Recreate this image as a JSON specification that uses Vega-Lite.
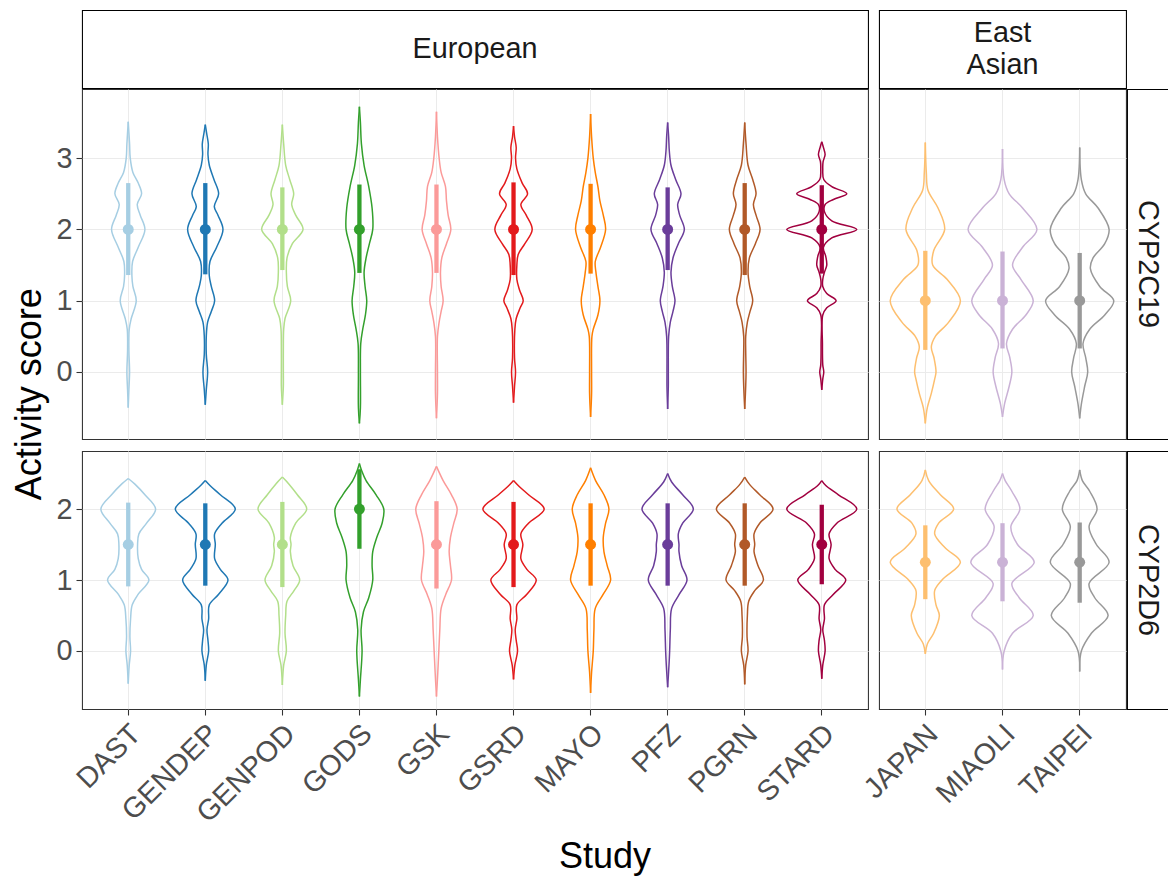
{
"$schema": "https://vega.github.io/schema/vega-lite/v6.json",
"background": "white",
"padding": {"left": 12, "top": 9, "right": 0, "bottom": 0},
"title": {"text": "Activity score", "orient": "left", "anchor": "middle", "fontSize": 36, "fontWeight": "normal", "font": "Liberation Sans", "color": "#000000", "offset": 6, "dx": 48},
"config": {
  "font": "Liberation Sans",
  "axis": {"labelFont": "Liberation Sans", "labelFontSize": 28.8, "labelColor": "#4D4D4D", "tickColor": "#333333", "tickWidth": 1.07, "tickSize": 6, "gridColor": "#EBEBEB", "gridWidth": 1.07, "domain": false, "titleFont": "Liberation Sans", "titleFontSize": 36, "titleFontWeight": "normal", "titleColor": "#000000"}
},
"datasets": {
"vc19eu": [
{"s":"DAST","v":-0.5,"w":0},{"s":"DAST","v":-0.25,"w":2},{"s":"DAST","v":0,"w":4},{"s":"DAST","v":0.3,"w":2},{"s":"DAST","v":0.6,"w":3},{"s":"DAST","v":0.75,"w":9},{"s":"DAST","v":1,"w":24},{"s":"DAST","v":1.2,"w":14},{"s":"DAST","v":1.35,"w":11},{"s":"DAST","v":1.55,"w":13},{"s":"DAST","v":1.75,"w":30},{"s":"DAST","v":2,"w":50},{"s":"DAST","v":2.2,"w":36},{"s":"DAST","v":2.35,"w":27},{"s":"DAST","v":2.5,"w":40},{"s":"DAST","v":2.65,"w":30},{"s":"DAST","v":2.8,"w":14},{"s":"DAST","v":3,"w":6},{"s":"DAST","v":3.2,"w":4},{"s":"DAST","v":3.51,"w":0},
{"s":"GENDEP","v":-0.46,"w":0},{"s":"GENDEP","v":-0.25,"w":3},{"s":"GENDEP","v":0,"w":7},{"s":"GENDEP","v":0.25,"w":3},{"s":"GENDEP","v":0.5,"w":3},{"s":"GENDEP","v":0.7,"w":7},{"s":"GENDEP","v":0.85,"w":18},{"s":"GENDEP","v":1,"w":28},{"s":"GENDEP","v":1.2,"w":18},{"s":"GENDEP","v":1.35,"w":12},{"s":"GENDEP","v":1.55,"w":14},{"s":"GENDEP","v":1.75,"w":34},{"s":"GENDEP","v":2,"w":53},{"s":"GENDEP","v":2.2,"w":38},{"s":"GENDEP","v":2.32,"w":27},{"s":"GENDEP","v":2.5,"w":40},{"s":"GENDEP","v":2.7,"w":26},{"s":"GENDEP","v":2.9,"w":12},{"s":"GENDEP","v":3.05,"w":8},{"s":"GENDEP","v":3.2,"w":9},{"s":"GENDEP","v":3.35,"w":4},{"s":"GENDEP","v":3.47,"w":0},
{"s":"GENPOD","v":-0.46,"w":0},{"s":"GENPOD","v":-0.2,"w":3},{"s":"GENPOD","v":0,"w":3},{"s":"GENPOD","v":0.3,"w":3},{"s":"GENPOD","v":0.6,"w":4},{"s":"GENPOD","v":0.75,"w":8},{"s":"GENPOD","v":1,"w":25},{"s":"GENPOD","v":1.2,"w":15},{"s":"GENPOD","v":1.4,"w":12},{"s":"GENPOD","v":1.6,"w":14},{"s":"GENPOD","v":1.8,"w":30},{"s":"GENPOD","v":2,"w":62},{"s":"GENPOD","v":2.2,"w":40},{"s":"GENPOD","v":2.35,"w":28},{"s":"GENPOD","v":2.5,"w":34},{"s":"GENPOD","v":2.7,"w":22},{"s":"GENPOD","v":2.9,"w":10},{"s":"GENPOD","v":3.2,"w":4},{"s":"GENPOD","v":3.47,"w":0},
{"s":"GODS","v":-0.72,"w":0},{"s":"GODS","v":-0.5,"w":3},{"s":"GODS","v":0,"w":3},{"s":"GODS","v":0.4,"w":4},{"s":"GODS","v":0.6,"w":10},{"s":"GODS","v":0.8,"w":18},{"s":"GODS","v":1,"w":22},{"s":"GODS","v":1.2,"w":17},{"s":"GODS","v":1.4,"w":14},{"s":"GODS","v":1.6,"w":20},{"s":"GODS","v":1.8,"w":30},{"s":"GODS","v":2,"w":40},{"s":"GODS","v":2.3,"w":38},{"s":"GODS","v":2.6,"w":28},{"s":"GODS","v":2.9,"w":14},{"s":"GODS","v":3.2,"w":6},{"s":"GODS","v":3.5,"w":3},{"s":"GODS","v":3.72,"w":0},
{"s":"GSK","v":-0.65,"w":0},{"s":"GSK","v":-0.3,"w":3},{"s":"GSK","v":0,"w":3},{"s":"GSK","v":0.5,"w":3},{"s":"GSK","v":0.7,"w":8},{"s":"GSK","v":0.85,"w":14},{"s":"GSK","v":1,"w":20},{"s":"GSK","v":1.2,"w":14},{"s":"GSK","v":1.4,"w":12},{"s":"GSK","v":1.6,"w":16},{"s":"GSK","v":1.8,"w":30},{"s":"GSK","v":2,"w":43},{"s":"GSK","v":2.2,"w":35},{"s":"GSK","v":2.4,"w":30},{"s":"GSK","v":2.6,"w":27},{"s":"GSK","v":2.8,"w":14},{"s":"GSK","v":3,"w":8},{"s":"GSK","v":3.3,"w":3},{"s":"GSK","v":3.65,"w":0},
{"s":"GSRD","v":-0.43,"w":0},{"s":"GSRD","v":-0.2,"w":3},{"s":"GSRD","v":0,"w":6},{"s":"GSRD","v":0.2,"w":3},{"s":"GSRD","v":0.6,"w":4},{"s":"GSRD","v":0.75,"w":8},{"s":"GSRD","v":0.9,"w":20},{"s":"GSRD","v":1,"w":29},{"s":"GSRD","v":1.15,"w":18},{"s":"GSRD","v":1.3,"w":10},{"s":"GSRD","v":1.5,"w":10},{"s":"GSRD","v":1.65,"w":14},{"s":"GSRD","v":1.8,"w":34},{"s":"GSRD","v":2,"w":56},{"s":"GSRD","v":2.2,"w":38},{"s":"GSRD","v":2.35,"w":22},{"s":"GSRD","v":2.5,"w":42},{"s":"GSRD","v":2.65,"w":26},{"s":"GSRD","v":2.85,"w":10},{"s":"GSRD","v":3,"w":6},{"s":"GSRD","v":3.15,"w":8},{"s":"GSRD","v":3.3,"w":3},{"s":"GSRD","v":3.45,"w":0},
{"s":"MAYO","v":-0.63,"w":0},{"s":"MAYO","v":-0.3,"w":3},{"s":"MAYO","v":0,"w":3},{"s":"MAYO","v":0.5,"w":4},{"s":"MAYO","v":0.6,"w":8},{"s":"MAYO","v":0.8,"w":22},{"s":"MAYO","v":1,"w":28},{"s":"MAYO","v":1.2,"w":22},{"s":"MAYO","v":1.4,"w":16},{"s":"MAYO","v":1.55,"w":14},{"s":"MAYO","v":1.75,"w":30},{"s":"MAYO","v":2,"w":45},{"s":"MAYO","v":2.2,"w":38},{"s":"MAYO","v":2.4,"w":28},{"s":"MAYO","v":2.6,"w":22},{"s":"MAYO","v":2.8,"w":14},{"s":"MAYO","v":3,"w":8},{"s":"MAYO","v":3.3,"w":3},{"s":"MAYO","v":3.62,"w":0},
{"s":"PFZ","v":-0.52,"w":0},{"s":"PFZ","v":-0.2,"w":2},{"s":"PFZ","v":0,"w":2},{"s":"PFZ","v":0.5,"w":3},{"s":"PFZ","v":0.7,"w":8},{"s":"PFZ","v":0.85,"w":16},{"s":"PFZ","v":1,"w":22},{"s":"PFZ","v":1.2,"w":14},{"s":"PFZ","v":1.4,"w":10},{"s":"PFZ","v":1.6,"w":16},{"s":"PFZ","v":1.8,"w":32},{"s":"PFZ","v":2,"w":50},{"s":"PFZ","v":2.2,"w":36},{"s":"PFZ","v":2.35,"w":30},{"s":"PFZ","v":2.5,"w":40},{"s":"PFZ","v":2.7,"w":24},{"s":"PFZ","v":2.9,"w":10},{"s":"PFZ","v":3.1,"w":5},{"s":"PFZ","v":3.3,"w":3},{"s":"PFZ","v":3.5,"w":0},
{"s":"PGRN","v":-0.52,"w":0},{"s":"PGRN","v":-0.2,"w":3},{"s":"PGRN","v":0,"w":4},{"s":"PGRN","v":0.3,"w":3},{"s":"PGRN","v":0.5,"w":3},{"s":"PGRN","v":0.7,"w":8},{"s":"PGRN","v":0.85,"w":16},{"s":"PGRN","v":1,"w":24},{"s":"PGRN","v":1.2,"w":15},{"s":"PGRN","v":1.4,"w":10},{"s":"PGRN","v":1.6,"w":14},{"s":"PGRN","v":1.8,"w":32},{"s":"PGRN","v":2,"w":46},{"s":"PGRN","v":2.2,"w":34},{"s":"PGRN","v":2.35,"w":26},{"s":"PGRN","v":2.5,"w":34},{"s":"PGRN","v":2.7,"w":24},{"s":"PGRN","v":2.9,"w":10},{"s":"PGRN","v":3.2,"w":4},{"s":"PGRN","v":3.5,"w":0},
{"s":"STARD","v":-0.25,"w":0},{"s":"STARD","v":-0.1,"w":3},{"s":"STARD","v":0,"w":6},{"s":"STARD","v":0.1,"w":3},{"s":"STARD","v":0.4,"w":2},{"s":"STARD","v":0.8,"w":3},{"s":"STARD","v":0.9,"w":15},{"s":"STARD","v":1,"w":43},{"s":"STARD","v":1.1,"w":15},{"s":"STARD","v":1.2,"w":3},{"s":"STARD","v":1.3,"w":3},{"s":"STARD","v":1.4,"w":8},{"s":"STARD","v":1.5,"w":15},{"s":"STARD","v":1.62,"w":12},{"s":"STARD","v":1.75,"w":5},{"s":"STARD","v":1.88,"w":30},{"s":"STARD","v":2,"w":105},{"s":"STARD","v":2.12,"w":30},{"s":"STARD","v":2.25,"w":8},{"s":"STARD","v":2.35,"w":10},{"s":"STARD","v":2.42,"w":35},{"s":"STARD","v":2.5,"w":75},{"s":"STARD","v":2.6,"w":30},{"s":"STARD","v":2.7,"w":6},{"s":"STARD","v":2.85,"w":3},{"s":"STARD","v":2.95,"w":4},{"s":"STARD","v":3.05,"w":10},{"s":"STARD","v":3.15,"w":5},{"s":"STARD","v":3.23,"w":0}
],
"vc19ea": [
{"s":"JAPAN","v":-0.72,"w":0},{"s":"JAPAN","v":-0.5,"w":6},{"s":"JAPAN","v":-0.3,"w":18},{"s":"JAPAN","v":-0.1,"w":28},{"s":"JAPAN","v":0,"w":32},{"s":"JAPAN","v":0.2,"w":26},{"s":"JAPAN","v":0.35,"w":18},{"s":"JAPAN","v":0.5,"w":30},{"s":"JAPAN","v":0.7,"w":70},{"s":"JAPAN","v":1,"w":105},{"s":"JAPAN","v":1.3,"w":65},{"s":"JAPAN","v":1.5,"w":22},{"s":"JAPAN","v":1.7,"w":25},{"s":"JAPAN","v":2,"w":58},{"s":"JAPAN","v":2.3,"w":38},{"s":"JAPAN","v":2.55,"w":8},{"s":"JAPAN","v":2.8,"w":3},{"s":"JAPAN","v":3.22,"w":0},
{"s":"MIAOLI","v":-0.63,"w":0},{"s":"MIAOLI","v":-0.45,"w":6},{"s":"MIAOLI","v":-0.2,"w":20},{"s":"MIAOLI","v":0,"w":28},{"s":"MIAOLI","v":0.2,"w":22},{"s":"MIAOLI","v":0.4,"w":12},{"s":"MIAOLI","v":0.6,"w":30},{"s":"MIAOLI","v":0.8,"w":70},{"s":"MIAOLI","v":1,"w":92},{"s":"MIAOLI","v":1.3,"w":55},{"s":"MIAOLI","v":1.5,"w":30},{"s":"MIAOLI","v":1.75,"w":60},{"s":"MIAOLI","v":2,"w":103},{"s":"MIAOLI","v":2.3,"w":60},{"s":"MIAOLI","v":2.5,"w":20},{"s":"MIAOLI","v":2.7,"w":5},{"s":"MIAOLI","v":3.13,"w":0},
{"s":"TAIPEI","v":-0.65,"w":0},{"s":"TAIPEI","v":-0.45,"w":5},{"s":"TAIPEI","v":-0.2,"w":15},{"s":"TAIPEI","v":0,"w":24},{"s":"TAIPEI","v":0.2,"w":18},{"s":"TAIPEI","v":0.4,"w":10},{"s":"TAIPEI","v":0.6,"w":30},{"s":"TAIPEI","v":0.8,"w":75},{"s":"TAIPEI","v":1,"w":102},{"s":"TAIPEI","v":1.2,"w":60},{"s":"TAIPEI","v":1.45,"w":32},{"s":"TAIPEI","v":1.6,"w":40},{"s":"TAIPEI","v":1.8,"w":75},{"s":"TAIPEI","v":2,"w":88},{"s":"TAIPEI","v":2.3,"w":55},{"s":"TAIPEI","v":2.5,"w":18},{"s":"TAIPEI","v":2.7,"w":5},{"s":"TAIPEI","v":3.15,"w":0}
],
"vd6eu": [
{"s":"DAST","v":-0.46,"w":0},{"s":"DAST","v":-0.2,"w":3},{"s":"DAST","v":0,"w":7},{"s":"DAST","v":0.2,"w":5},{"s":"DAST","v":0.45,"w":7},{"s":"DAST","v":0.65,"w":12},{"s":"DAST","v":0.8,"w":30},{"s":"DAST","v":1,"w":62},{"s":"DAST","v":1.15,"w":40},{"s":"DAST","v":1.3,"w":30},{"s":"DAST","v":1.5,"w":28},{"s":"DAST","v":1.65,"w":32},{"s":"DAST","v":1.8,"w":55},{"s":"DAST","v":2,"w":82},{"s":"DAST","v":2.2,"w":50},{"s":"DAST","v":2.35,"w":20},{"s":"DAST","v":2.43,"w":0},
{"s":"GENDEP","v":-0.42,"w":0},{"s":"GENDEP","v":-0.2,"w":3},{"s":"GENDEP","v":0,"w":10},{"s":"GENDEP","v":0.15,"w":8},{"s":"GENDEP","v":0.3,"w":5},{"s":"GENDEP","v":0.45,"w":10},{"s":"GENDEP","v":0.65,"w":12},{"s":"GENDEP","v":0.8,"w":40},{"s":"GENDEP","v":1,"w":68},{"s":"GENDEP","v":1.15,"w":45},{"s":"GENDEP","v":1.3,"w":28},{"s":"GENDEP","v":1.5,"w":30},{"s":"GENDEP","v":1.65,"w":28},{"s":"GENDEP","v":1.8,"w":50},{"s":"GENDEP","v":2,"w":90},{"s":"GENDEP","v":2.2,"w":45},{"s":"GENDEP","v":2.33,"w":14},{"s":"GENDEP","v":2.4,"w":0},
{"s":"GENPOD","v":-0.48,"w":0},{"s":"GENPOD","v":-0.2,"w":4},{"s":"GENPOD","v":0,"w":12},{"s":"GENPOD","v":0.25,"w":8},{"s":"GENPOD","v":0.5,"w":10},{"s":"GENPOD","v":0.7,"w":14},{"s":"GENPOD","v":0.85,"w":35},{"s":"GENPOD","v":1,"w":52},{"s":"GENPOD","v":1.2,"w":32},{"s":"GENPOD","v":1.4,"w":24},{"s":"GENPOD","v":1.5,"w":26},{"s":"GENPOD","v":1.6,"w":24},{"s":"GENPOD","v":1.8,"w":40},{"s":"GENPOD","v":2,"w":73},{"s":"GENPOD","v":2.2,"w":45},{"s":"GENPOD","v":2.35,"w":20},{"s":"GENPOD","v":2.45,"w":0},
{"s":"GODS","v":-0.64,"w":0},{"s":"GODS","v":-0.4,"w":3},{"s":"GODS","v":0,"w":8},{"s":"GODS","v":0.3,"w":5},{"s":"GODS","v":0.55,"w":12},{"s":"GODS","v":0.75,"w":28},{"s":"GODS","v":1,"w":40},{"s":"GODS","v":1.2,"w":38},{"s":"GODS","v":1.4,"w":40},{"s":"GODS","v":1.6,"w":52},{"s":"GODS","v":1.8,"w":68},{"s":"GODS","v":2,"w":73},{"s":"GODS","v":2.2,"w":50},{"s":"GODS","v":2.4,"w":20},{"s":"GODS","v":2.55,"w":6},{"s":"GODS","v":2.64,"w":0},
{"s":"GSK","v":-0.64,"w":0},{"s":"GSK","v":-0.3,"w":4},{"s":"GSK","v":0,"w":7},{"s":"GSK","v":0.3,"w":10},{"s":"GSK","v":0.6,"w":14},{"s":"GSK","v":0.8,"w":28},{"s":"GSK","v":1,"w":45},{"s":"GSK","v":1.2,"w":42},{"s":"GSK","v":1.4,"w":38},{"s":"GSK","v":1.6,"w":42},{"s":"GSK","v":1.8,"w":52},{"s":"GSK","v":2,"w":62},{"s":"GSK","v":2.2,"w":45},{"s":"GSK","v":2.4,"w":20},{"s":"GSK","v":2.6,"w":0},
{"s":"GSRD","v":-0.4,"w":0},{"s":"GSRD","v":-0.2,"w":4},{"s":"GSRD","v":0,"w":12},{"s":"GSRD","v":0.15,"w":8},{"s":"GSRD","v":0.3,"w":5},{"s":"GSRD","v":0.45,"w":10},{"s":"GSRD","v":0.65,"w":10},{"s":"GSRD","v":0.8,"w":40},{"s":"GSRD","v":1,"w":68},{"s":"GSRD","v":1.15,"w":40},{"s":"GSRD","v":1.3,"w":22},{"s":"GSRD","v":1.5,"w":28},{"s":"GSRD","v":1.65,"w":22},{"s":"GSRD","v":1.8,"w":45},{"s":"GSRD","v":2,"w":92},{"s":"GSRD","v":2.2,"w":45},{"s":"GSRD","v":2.33,"w":14},{"s":"GSRD","v":2.4,"w":0},
{"s":"MAYO","v":-0.59,"w":0},{"s":"MAYO","v":-0.3,"w":3},{"s":"MAYO","v":0,"w":8},{"s":"MAYO","v":0.3,"w":10},{"s":"MAYO","v":0.6,"w":14},{"s":"MAYO","v":0.8,"w":38},{"s":"MAYO","v":1,"w":60},{"s":"MAYO","v":1.2,"w":50},{"s":"MAYO","v":1.4,"w":40},{"s":"MAYO","v":1.6,"w":38},{"s":"MAYO","v":1.8,"w":45},{"s":"MAYO","v":2,"w":55},{"s":"MAYO","v":2.2,"w":40},{"s":"MAYO","v":2.4,"w":15},{"s":"MAYO","v":2.58,"w":0},
{"s":"PFZ","v":-0.51,"w":0},{"s":"PFZ","v":-0.2,"w":4},{"s":"PFZ","v":0,"w":6},{"s":"PFZ","v":0.3,"w":8},{"s":"PFZ","v":0.6,"w":12},{"s":"PFZ","v":0.8,"w":35},{"s":"PFZ","v":1,"w":58},{"s":"PFZ","v":1.2,"w":42},{"s":"PFZ","v":1.4,"w":34},{"s":"PFZ","v":1.5,"w":34},{"s":"PFZ","v":1.65,"w":32},{"s":"PFZ","v":1.8,"w":45},{"s":"PFZ","v":2,"w":77},{"s":"PFZ","v":2.2,"w":45},{"s":"PFZ","v":2.38,"w":12},{"s":"PFZ","v":2.5,"w":0},
{"s":"PGRN","v":-0.47,"w":0},{"s":"PGRN","v":-0.2,"w":3},{"s":"PGRN","v":0,"w":10},{"s":"PGRN","v":0.2,"w":7},{"s":"PGRN","v":0.5,"w":8},{"s":"PGRN","v":0.7,"w":12},{"s":"PGRN","v":0.85,"w":30},{"s":"PGRN","v":1,"w":56},{"s":"PGRN","v":1.2,"w":40},{"s":"PGRN","v":1.4,"w":28},{"s":"PGRN","v":1.5,"w":30},{"s":"PGRN","v":1.65,"w":28},{"s":"PGRN","v":1.8,"w":45},{"s":"PGRN","v":2,"w":85},{"s":"PGRN","v":2.2,"w":45},{"s":"PGRN","v":2.35,"w":14},{"s":"PGRN","v":2.45,"w":0},
{"s":"STARD","v":-0.39,"w":0},{"s":"STARD","v":-0.2,"w":3},{"s":"STARD","v":0,"w":10},{"s":"STARD","v":0.15,"w":8},{"s":"STARD","v":0.3,"w":3},{"s":"STARD","v":0.45,"w":8},{"s":"STARD","v":0.65,"w":8},{"s":"STARD","v":0.8,"w":35},{"s":"STARD","v":1,"w":72},{"s":"STARD","v":1.15,"w":40},{"s":"STARD","v":1.3,"w":22},{"s":"STARD","v":1.5,"w":28},{"s":"STARD","v":1.65,"w":22},{"s":"STARD","v":1.8,"w":45},{"s":"STARD","v":2,"w":105},{"s":"STARD","v":2.2,"w":50},{"s":"STARD","v":2.33,"w":12},{"s":"STARD","v":2.4,"w":0}
],
"vd6ea": [
{"s":"JAPAN","v":-0.04,"w":0},{"s":"JAPAN","v":0.1,"w":6},{"s":"JAPAN","v":0.25,"w":25},{"s":"JAPAN","v":0.5,"w":42},{"s":"JAPAN","v":0.65,"w":32},{"s":"JAPAN","v":0.85,"w":28},{"s":"JAPAN","v":1,"w":50},{"s":"JAPAN","v":1.25,"w":105},{"s":"JAPAN","v":1.45,"w":60},{"s":"JAPAN","v":1.65,"w":28},{"s":"JAPAN","v":1.8,"w":40},{"s":"JAPAN","v":2,"w":85},{"s":"JAPAN","v":2.2,"w":45},{"s":"JAPAN","v":2.4,"w":10},{"s":"JAPAN","v":2.55,"w":0},
{"s":"MIAOLI","v":-0.26,"w":0},{"s":"MIAOLI","v":0,"w":5},{"s":"MIAOLI","v":0.25,"w":30},{"s":"MIAOLI","v":0.5,"w":92},{"s":"MIAOLI","v":0.75,"w":50},{"s":"MIAOLI","v":0.95,"w":28},{"s":"MIAOLI","v":1.25,"w":95},{"s":"MIAOLI","v":1.5,"w":45},{"s":"MIAOLI","v":1.75,"w":25},{"s":"MIAOLI","v":2,"w":52},{"s":"MIAOLI","v":2.25,"w":28},{"s":"MIAOLI","v":2.4,"w":8},{"s":"MIAOLI","v":2.5,"w":0},
{"s":"TAIPEI","v":-0.29,"w":0},{"s":"TAIPEI","v":0,"w":5},{"s":"TAIPEI","v":0.25,"w":35},{"s":"TAIPEI","v":0.5,"w":85},{"s":"TAIPEI","v":0.75,"w":45},{"s":"TAIPEI","v":0.95,"w":28},{"s":"TAIPEI","v":1.25,"w":88},{"s":"TAIPEI","v":1.5,"w":50},{"s":"TAIPEI","v":1.75,"w":28},{"s":"TAIPEI","v":2,"w":52},{"s":"TAIPEI","v":2.25,"w":30},{"s":"TAIPEI","v":2.4,"w":8},{"s":"TAIPEI","v":2.55,"w":0}
],
"pc19eu": [
{"s":"DAST","lo":1.36,"mid":2,"hi":2.65},{"s":"GENDEP","lo":1.37,"mid":2,"hi":2.65},{"s":"GENPOD","lo":1.43,"mid":2,"hi":2.59},{"s":"GODS","lo":1.39,"mid":2,"hi":2.63},{"s":"GSK","lo":1.39,"mid":2,"hi":2.63},{"s":"GSRD","lo":1.36,"mid":2,"hi":2.66},{"s":"MAYO","lo":1.38,"mid":2,"hi":2.64},{"s":"PFZ","lo":1.43,"mid":2,"hi":2.59},{"s":"PGRN","lo":1.36,"mid":2,"hi":2.65},{"s":"STARD","lo":1.38,"mid":2,"hi":2.62}
],
"pc19ea": [
{"s":"JAPAN","lo":0.31,"mid":1,"hi":1.7},{"s":"MIAOLI","lo":0.33,"mid":1,"hi":1.69},{"s":"TAIPEI","lo":0.33,"mid":1,"hi":1.67}
],
"pd6eu": [
{"s":"DAST","lo":0.91,"mid":1.5,"hi":2.09},{"s":"GENDEP","lo":0.92,"mid":1.5,"hi":2.08},{"s":"GENPOD","lo":0.9,"mid":1.5,"hi":2.1},{"s":"GODS","lo":1.44,"mid":2,"hi":2.56},{"s":"GSK","lo":0.88,"mid":1.5,"hi":2.11},{"s":"GSRD","lo":0.9,"mid":1.5,"hi":2.1},{"s":"MAYO","lo":0.92,"mid":1.5,"hi":2.08},{"s":"PFZ","lo":0.92,"mid":1.5,"hi":2.08},{"s":"PGRN","lo":0.92,"mid":1.5,"hi":2.08},{"s":"STARD","lo":0.94,"mid":1.5,"hi":2.06}
],
"pd6ea": [
{"s":"JAPAN","lo":0.73,"mid":1.25,"hi":1.77},{"s":"MIAOLI","lo":0.7,"mid":1.25,"hi":1.8},{"s":"TAIPEI","lo":0.68,"mid":1.25,"hi":1.81}
]
},
"spacing": -2,
"hconcat": [
{"spacing": -11, "hconcat": [
 {"spacing": 10, "vconcat": [
  {"spacing": -2, "vconcat": [
   {"width": 786, "height": 78, "view": {"stroke": "#000000", "strokeWidth": 1.07, "fill": "white"},
    "data": {"values": [{"lab": "European"}]},
    "mark": {"type": "text", "fontSize": 28.8, "font": "Liberation Sans", "color": "#1A1A1A"},
    "encoding": {"text": {"field": "lab"}}},
   {"width": 786, "height": 350, "view": {"stroke": "#333333", "strokeWidth": 1.07},
    "resolve": {"scale": {"xOffset": "independent"}},
    "layer": [
     {"data": {"name": "vc19eu"}, "mark": {"type": "line", "interpolate": "catmull-rom", "strokeWidth": 1.5},
      "encoding": {
       "x": {"field": "s", "type": "nominal", "scale": {"paddingInner": 0, "paddingOuter": 0.1}, "axis": {"labels": false, "ticks": false, "grid": true, "title": null}},
       "xOffset": {"field": "w", "type": "quantitative", "scale": {"domain": [-115.5, 115.5]}},
       "y": {"field": "v", "type": "quantitative", "scale": {"domain": [-0.94, 3.97], "nice": false, "zero": false}, "axis": {"values": [0, 1, 2, 3], "format": "d", "grid": true, "labelPadding": 4, "title": null}},
       "color": {"field": "s", "type": "nominal", "legend": null, "scale": {"domain": ["DAST","GENDEP","GENPOD","GODS","GSK","GSRD","MAYO","PFZ","PGRN","STARD","JAPAN","MIAOLI","TAIPEI"], "range": ["#A6CEE3","#1F78B4","#B2DF8A","#33A02C","#FB9A99","#E31A1C","#FF7F00","#6A3D9A","#B15928","#A1003F","#FDBF6F","#CAB2D6","#999999"]}},
       "order": {"field": "v", "type": "quantitative"}}},
     {"data": {"name": "vc19eu"}, "mark": {"type": "line", "interpolate": "catmull-rom", "strokeWidth": 1.5},
      "encoding": {
       "x": {"field": "s", "type": "nominal"},
       "xOffset": {"field": "w", "type": "quantitative", "scale": {"domain": [115.5, -115.5]}},
       "y": {"field": "v", "type": "quantitative"},
       "color": {"field": "s", "type": "nominal"},
       "order": {"field": "v", "type": "quantitative"}}},
     {"data": {"name": "pc19eu"}, "mark": {"type": "rule", "strokeWidth": 4.3},
      "encoding": {"x": {"field": "s", "type": "nominal"}, "y": {"field": "lo", "type": "quantitative"}, "y2": {"field": "hi"}, "color": {"field": "s", "type": "nominal"}}},
     {"data": {"name": "pc19eu"}, "mark": {"type": "point", "filled": true, "size": 120, "opacity": 1},
      "encoding": {"x": {"field": "s", "type": "nominal"}, "y": {"field": "mid", "type": "quantitative"}, "color": {"field": "s", "type": "nominal"}}}
    ]}
  ]},
  {"width": 786, "height": 258, "view": {"stroke": "#333333", "strokeWidth": 1.07},
   "resolve": {"scale": {"xOffset": "independent"}},
   "layer": [
    {"data": {"name": "vd6eu"}, "mark": {"type": "line", "interpolate": "catmull-rom", "strokeWidth": 1.5},
     "encoding": {
      "x": {"field": "s", "type": "nominal", "scale": {"paddingInner": 0, "paddingOuter": 0.1}, "axis": {"grid": true, "labelAngle": -45, "labelAlign": "right", "labelBaseline": "top", "labelPadding": 4, "labelOffset": -2, "title": "Study", "titleX": 522.5, "titlePadding": 12}},
      "xOffset": {"field": "w", "type": "quantitative", "scale": {"domain": [-115.5, 115.5]}},
      "y": {"field": "v", "type": "quantitative", "scale": {"domain": [-0.817, 2.817], "nice": false, "zero": false}, "axis": {"values": [0, 1, 2], "format": "d", "grid": true, "labelPadding": 4, "title": null}},
      "color": {"field": "s", "type": "nominal", "legend": null, "scale": {"domain": ["DAST","GENDEP","GENPOD","GODS","GSK","GSRD","MAYO","PFZ","PGRN","STARD","JAPAN","MIAOLI","TAIPEI"], "range": ["#A6CEE3","#1F78B4","#B2DF8A","#33A02C","#FB9A99","#E31A1C","#FF7F00","#6A3D9A","#B15928","#A1003F","#FDBF6F","#CAB2D6","#999999"]}},
      "order": {"field": "v", "type": "quantitative"}}},
    {"data": {"name": "vd6eu"}, "mark": {"type": "line", "interpolate": "catmull-rom", "strokeWidth": 1.5},
     "encoding": {
      "x": {"field": "s", "type": "nominal"},
      "xOffset": {"field": "w", "type": "quantitative", "scale": {"domain": [115.5, -115.5]}},
      "y": {"field": "v", "type": "quantitative"},
      "color": {"field": "s", "type": "nominal"},
      "order": {"field": "v", "type": "quantitative"}}},
    {"data": {"name": "pd6eu"}, "mark": {"type": "rule", "strokeWidth": 4.3},
     "encoding": {"x": {"field": "s", "type": "nominal"}, "y": {"field": "lo", "type": "quantitative"}, "y2": {"field": "hi"}, "color": {"field": "s", "type": "nominal"}}},
    {"data": {"name": "pd6eu"}, "mark": {"type": "point", "filled": true, "size": 120, "opacity": 1},
     "encoding": {"x": {"field": "s", "type": "nominal"}, "y": {"field": "mid", "type": "quantitative"}, "color": {"field": "s", "type": "nominal"}}}
   ]}
 ]},
 {"spacing": 10, "vconcat": [
  {"spacing": -2, "vconcat": [
   {"width": 247, "height": 78, "view": {"stroke": "#000000", "strokeWidth": 1.07, "fill": "white"},
    "data": {"values": [{"lab": ["East", "Asian"]}]},
    "mark": {"type": "text", "fontSize": 28.8, "font": "Liberation Sans", "color": "#1A1A1A", "lineHeight": 32, "dy": -16},
    "encoding": {"text": {"field": "lab"}}},
   {"width": 247, "height": 350, "view": {"stroke": "#333333", "strokeWidth": 1.07},
    "resolve": {"scale": {"xOffset": "independent"}},
    "layer": [
     {"data": {"name": "vc19ea"}, "mark": {"type": "line", "interpolate": "catmull-rom", "strokeWidth": 1.5},
      "encoding": {
       "x": {"field": "s", "type": "nominal", "scale": {"paddingInner": 0, "paddingOuter": 0.1}, "axis": {"labels": false, "ticks": false, "grid": true, "title": null}},
       "xOffset": {"field": "w", "type": "quantitative", "scale": {"domain": [-115.5, 115.5]}},
       "y": {"field": "v", "type": "quantitative", "scale": {"domain": [-0.94, 3.97], "nice": false, "zero": false}, "axis": {"values": [0, 1, 2, 3], "grid": true, "labels": false, "ticks": false, "title": null}},
       "color": {"field": "s", "type": "nominal", "legend": null, "scale": {"domain": ["DAST","GENDEP","GENPOD","GODS","GSK","GSRD","MAYO","PFZ","PGRN","STARD","JAPAN","MIAOLI","TAIPEI"], "range": ["#A6CEE3","#1F78B4","#B2DF8A","#33A02C","#FB9A99","#E31A1C","#FF7F00","#6A3D9A","#B15928","#A1003F","#FDBF6F","#CAB2D6","#999999"]}},
       "order": {"field": "v", "type": "quantitative"}}},
     {"data": {"name": "vc19ea"}, "mark": {"type": "line", "interpolate": "catmull-rom", "strokeWidth": 1.5},
      "encoding": {
       "x": {"field": "s", "type": "nominal"},
       "xOffset": {"field": "w", "type": "quantitative", "scale": {"domain": [115.5, -115.5]}},
       "y": {"field": "v", "type": "quantitative"},
       "color": {"field": "s", "type": "nominal"},
       "order": {"field": "v", "type": "quantitative"}}},
     {"data": {"name": "pc19ea"}, "mark": {"type": "rule", "strokeWidth": 4.3},
      "encoding": {"x": {"field": "s", "type": "nominal"}, "y": {"field": "lo", "type": "quantitative"}, "y2": {"field": "hi"}, "color": {"field": "s", "type": "nominal"}}},
     {"data": {"name": "pc19ea"}, "mark": {"type": "point", "filled": true, "size": 120, "opacity": 1},
      "encoding": {"x": {"field": "s", "type": "nominal"}, "y": {"field": "mid", "type": "quantitative"}, "color": {"field": "s", "type": "nominal"}}}
    ]}
  ]},
  {"width": 247, "height": 258, "view": {"stroke": "#333333", "strokeWidth": 1.07},
   "resolve": {"scale": {"xOffset": "independent"}},
   "layer": [
    {"data": {"name": "vd6ea"}, "mark": {"type": "line", "interpolate": "catmull-rom", "strokeWidth": 1.5},
     "encoding": {
      "x": {"field": "s", "type": "nominal", "scale": {"paddingInner": 0, "paddingOuter": 0.1}, "axis": {"grid": true, "labelAngle": -45, "labelAlign": "right", "labelBaseline": "top", "labelPadding": 4, "labelOffset": -2, "title": null}},
      "xOffset": {"field": "w", "type": "quantitative", "scale": {"domain": [-115.5, 115.5]}},
      "y": {"field": "v", "type": "quantitative", "scale": {"domain": [-0.817, 2.817], "nice": false, "zero": false}, "axis": {"values": [0, 1, 2], "grid": true, "labels": false, "ticks": false, "title": null}},
      "color": {"field": "s", "type": "nominal", "legend": null, "scale": {"domain": ["DAST","GENDEP","GENPOD","GODS","GSK","GSRD","MAYO","PFZ","PGRN","STARD","JAPAN","MIAOLI","TAIPEI"], "range": ["#A6CEE3","#1F78B4","#B2DF8A","#33A02C","#FB9A99","#E31A1C","#FF7F00","#6A3D9A","#B15928","#A1003F","#FDBF6F","#CAB2D6","#999999"]}},
      "order": {"field": "v", "type": "quantitative"}}},
    {"data": {"name": "vd6ea"}, "mark": {"type": "line", "interpolate": "catmull-rom", "strokeWidth": 1.5},
     "encoding": {
      "x": {"field": "s", "type": "nominal"},
      "xOffset": {"field": "w", "type": "quantitative", "scale": {"domain": [115.5, -115.5]}},
      "y": {"field": "v", "type": "quantitative"},
      "color": {"field": "s", "type": "nominal"},
      "order": {"field": "v", "type": "quantitative"}}},
    {"data": {"name": "pd6ea"}, "mark": {"type": "rule", "strokeWidth": 4.3},
     "encoding": {"x": {"field": "s", "type": "nominal"}, "y": {"field": "lo", "type": "quantitative"}, "y2": {"field": "hi"}, "color": {"field": "s", "type": "nominal"}}},
    {"data": {"name": "pd6ea"}, "mark": {"type": "point", "filled": true, "size": 120, "opacity": 1},
     "encoding": {"x": {"field": "s", "type": "nominal"}, "y": {"field": "mid", "type": "quantitative"}, "color": {"field": "s", "type": "nominal"}}}
   ]}
 ]}
]},
{"spacing": 10, "vconcat": [
 {"spacing": -2, "vconcat": [
  {"width": 42, "height": 78, "view": {"stroke": "transparent", "strokeWidth": 1.07},
   "data": {"values": [{"lab": ""}]},
   "mark": {"type": "text"},
   "encoding": {"text": {"field": "lab"}}},
  {"width": 42, "height": 350, "view": {"stroke": "#000000", "strokeWidth": 1.07, "fill": "white"},
   "data": {"values": [{"lab": "CYP2C19"}]},
   "mark": {"type": "text", "fontSize": 28.8, "font": "Liberation Sans", "color": "#1A1A1A", "angle": 90},
   "encoding": {"text": {"field": "lab"}}}
 ]},
 {"width": 42, "height": 258, "view": {"stroke": "#000000", "strokeWidth": 1.07, "fill": "white"},
  "data": {"values": [{"lab": "CYP2D6"}]},
  "mark": {"type": "text", "fontSize": 28.8, "font": "Liberation Sans", "color": "#1A1A1A", "angle": 90},
  "encoding": {"text": {"field": "lab"}}}
]}
]
}
